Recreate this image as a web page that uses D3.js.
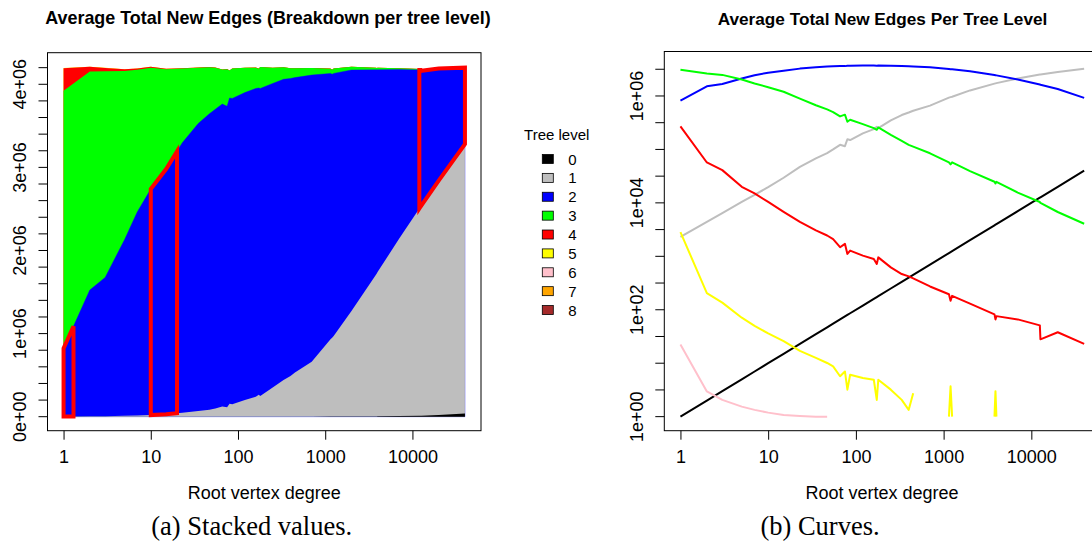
<!DOCTYPE html>
<html>
<head>
<meta charset="utf-8">
<script src="https://cdn.jsdelivr.net/npm/d3@7"></script>
<style>
  body { margin: 0; background: #fff; }
  svg { display: block; font-family: "Liberation Sans", Arial, sans-serif; }
</style>
</head>
<body>
<svg id="chart" width="1092" height="545"></svg>
<script>
// root vertex degree (x) shared by every tree level
var degrees = [1, 2, 3, 5, 7, 10, 15, 23, 35, 47, 55, 66, 75, 80, 86, 120, 160, 173, 180, 250, 333, 400, 450, 700,
  1150, 1200, 1250, 2000, 3800, 3900, 4000, 7000, 12500, 12700, 20000, 40000];

// average total new edges per tree level (null = nothing at that degree)
var level0 = [1, 2, 3, 5, 7, 10, 15, 23, 35, 47, 55, 66, 75, 80, 86, 120, 160, 173, 180, 250, 333, 400, 450, 700,
  1150, 1200, 1250, 2000, 3800, 3900, 4000, 7000, 12500, 12700, 20000, 40000];
var level1 = [2.3e3, 4.4e3, 6.4e3, 1.04e4, 1.41e4, 1.97e4, 2.95e4, 4.7e4, 6.8e4, 8.5e4, 1.0e5, 1.22e5, 1.15e5, 1.55e5, 1.5e5,
  2.0e5, 2.4e5, 2.65e5, 2.5e5, 3.5e5, 4.4e5, 4.9e5, 5.3e5, 6.6e5, 9.3e5, 9.5e5, 9.7e5, 1.27e6, 1.70e6, 1.72e6, 1.74e6,
  2.13e6, 2.52e6, 2.53e6, 2.82e6, 3.24e6];
var level2 = [8.2e5, 1.52e6, 1.67e6, 2.12e6, 2.45e6, 2.72e6, 2.95e6, 3.25e6, 3.46e6, 3.56e6, 3.60e6, 3.64e6, 3.62e6, 3.68e6,
  3.68e6, 3.70e6, 3.71e6, 3.69e6, 3.70e6, 3.66e6, 3.62e6, 3.58e6, 3.55e6, 3.45e6, 3.20e6, 3.17e6, 3.16e6, 2.90e6, 2.47e6,
  2.45e6, 2.43e6, 2.04e6, 1.64e6, 1.62e6, 1.35e6, 9.2e5];
var level3 = [3.1e6, 2.63e6, 2.48e6, 2.03e6, 1.71e6, 1.46e6, 1.2e6, 8.93e5, 6.7e5, 5.6e5, 5.0e5, 4.15e5, 4.47e5, 3.3e5, 3.59e5,
  2.98e5, 2.5e5, 2.33e5, 2.58e5, 1.88e5, 1.45e5, 1.22e5, 1.13e5, 8.47e4, 5.73e4, 5.26e4, 5.73e4, 3.94e4, 2.48e4, 2.31e4,
  2.48e4, 1.56e4, 1.04e4, 9.97e3, 6.75e3, 4.07e3];
var level4 = [2.7e5, 5.7e4, 4.1e4, 2.0e4, 1.5e4, 1.04e4, 6.8e3, 4.4e3, 3.05e3, 2.45e3, 2.1e3, 1.48e3, 1.71e3, 1.11e3, 1.28e3,
  1030, 890, 718, 955, 621, 466, 421, 386, 273, 195, 147, 182, 130, 82, 66, 76, 66, 51, 28, 38, 23];
var level5 = [2840, 204, 136, 71, 50, 36, 26, 17, 12.6, 10.1, 8.7, 5.7, 7.0, 3.2, 6.1, 5.3, 4.9, 2.06, 4.9, 3.2, 2.06, 1.34, 2.75,
  null, 1, 3.7, 1, null, 1, 3.0, 1, null, null, null, null, null];
var level6 = [22.4, 2.96, 2.06, 1.54, 1.34, 1.19, 1.07, 1.03, 1.0, 1.0, null, null, null, null, null, null, null, null, null,
  null, null, null, null, null, null, null, null, null, null, null, null, null, null, null, null, null];
var levels = [level0, level1, level2, level3, level4, level5, level6];

var levelNames = ["0", "1", "2", "3", "4", "5", "6", "7", "8"];
var levelColors = ["#000000", "#bebebe", "#0000ff", "#00ff00", "#ff0000", "#ffff00", "#ffc0cb", "#ffa500", "#a52a2a"];

// degree ranges outlined in red on the stacked panel (around level 2)
var highlightRanges = [[1, 1.3], [10, 20], [12000, 40000]];

// tick labels
var xTickValues = [1, 10, 100, 1000, 10000];
var stackTickValues = [0, 1e6, 2e6, 3e6, 4e6];
var stackTickLabels = ["0e+00", "1e+06", "2e+06", "3e+06", "4e+06"];
var logTickValues = [1, 1e2, 1e4, 1e6];
var logTickLabels = ["1e+00", "1e+02", "1e+04", "1e+06"];

var svg = d3.select("#chart");
var axisFont = 18;

// R style 4% padding, in log space
function padLog(ext) {
  var a = Math.log10(ext[0]), b = Math.log10(ext[1]), p = (b - a) * 0.04;
  return [Math.pow(10, a - p), Math.pow(10, b + p)];
}

//----------------------------------------------------------- left panel: stacked values
var boxL = { left: 47.5, right: 481, top: 52.7, bottom: 430.7 };
var xL = d3.scaleLog().domain(padLog(d3.extent(degrees))).range([boxL.left, boxL.right]);
var rows = degrees.map((d, i) => levels.map(l => l[i] == null ? 0 : l[i]));
var stacked = d3.stack().keys(d3.range(levels.length)).value((d, k) => d[k])(rows);
var total = d3.max(stacked[stacked.length - 1], d => d[1]);
var yL = d3.scaleLinear().domain([-0.04 * total, 1.04 * total]).range([boxL.bottom, boxL.top]);

// cumulative areas drawn top level first, so no seams between the bands
var cumArea = d3.area().x((d, i) => xL(degrees[i])).y0(yL(0)).y1(d => yL(d[1]));
svg.append("g").selectAll("path").data(stacked.slice().reverse()).join("path")
  .attr("d", cumArea)
  .attr("fill", d => levelColors[d.key])
  // level 2 keeps a faint outline, visible at the right and bottom edges
  .attr("stroke", d => d.key == 2 ? "#0000ff" : "none")
  .attr("stroke-width", 0.9)
  .attr("stroke-opacity", 0.45);

// band of level 2 at any degree (linear in log x)
var blue = stacked[2];
function bandAt(deg) {
  var i = Math.max(0, Math.min(degrees.length - 2, d3.bisectRight(degrees, deg) - 1));
  var a = Math.log10(degrees[i]), b = Math.log10(degrees[i + 1]);
  var t = (Math.log10(deg) - a) / (b - a);
  return [blue[i][0] + t * (blue[i + 1][0] - blue[i][0]), blue[i][1] + t * (blue[i + 1][1] - blue[i][1])];
}
svg.append("g").selectAll("path").data(highlightRanges).join("path")
  .attr("d", r => {
    var ds = [r[0]].concat(degrees.filter(d => d > r[0] && d < r[1]), [r[1]]);
    var top = ds.map(d => [xL(d), yL(bandAt(d)[1])]);
    var bottom = ds.slice().reverse().map(d => [xL(d), yL(bandAt(d)[0])]);
    return "M" + top.concat(bottom).join("L") + "Z";
  })
  .attr("fill", "none").attr("stroke", "#ff0000").attr("stroke-width", 4).attr("stroke-linejoin", "miter");

svg.append("rect").attr("x", boxL.left).attr("y", boxL.top)
  .attr("width", boxL.right - boxL.left).attr("height", boxL.bottom - boxL.top)
  .attr("fill", "none").attr("stroke", "#000");

// x axis
var gxL = svg.append("g").attr("transform", "translate(0," + boxL.bottom + ")")
  .call(d3.axisBottom(xL).tickValues(xTickValues).tickFormat(d3.format("d")).tickSize(9).tickPadding(10.5).tickSizeOuter(0));
gxL.select(".domain").remove();
gxL.selectAll("text").style("font-size", axisFont + "px").style("font-family", "Liberation Sans, Arial, sans-serif");

// y axis: ticks every 2e5, labels every 1e6
svg.append("g").selectAll("line").data(d3.range(0, total + 1, 2e5)).join("line")
  .attr("x1", boxL.left - 9).attr("x2", boxL.left)
  .attr("y1", d => yL(d)).attr("y2", d => yL(d)).attr("stroke", "#000");
svg.append("g").selectAll("text").data(stackTickValues).join("text")
  .attr("transform", d => "translate(26," + yL(d) + ") rotate(-90)")
  .attr("text-anchor", "middle").style("font-size", axisFont + "px")
  .text((d, i) => stackTickLabels[i]);

svg.append("text").attr("x", 268).attr("y", 24).attr("text-anchor", "middle")
  .style("font-size", "17.9px").style("font-weight", "bold")
  .text("Average Total New Edges (Breakdown per tree level)");
svg.append("text").attr("x", (boxL.left + boxL.right) / 2).attr("y", 499).attr("text-anchor", "middle")
  .style("font-size", axisFont + "px").text("Root vertex degree");

// legend
svg.append("text").attr("x", 556.7).attr("y", 140).attr("text-anchor", "middle")
  .style("font-size", "15px").text("Tree level");
var leg = svg.append("g").selectAll("g").data(levelNames).join("g")
  .attr("transform", (d, i) => "translate(542.3," + (159 + i * 18.88) + ")");
leg.append("rect").attr("x", 0).attr("y", -4.5).attr("width", 11).attr("height", 9)
  .attr("fill", (d, i) => levelColors[i]).attr("stroke", "#000").attr("stroke-width", 0.8);
leg.append("text").attr("x", 26).attr("y", 5.5).style("font-size", "15px").text(d => d);

//----------------------------------------------------------- right panel: curves on log axes
var boxR = { left: 664.3, right: 1100.3, top: 51.5, bottom: 430.7 };
var xR = d3.scaleLog().domain(padLog(d3.extent(degrees))).range([boxR.left, boxR.right]);
var allVals = levels.flat().filter(v => v != null && v > 0);
var yR = d3.scaleLog().domain(padLog(d3.extent(allVals))).range([boxR.bottom, boxR.top]);

var curve = d3.line().defined(d => d[1] != null).x(d => xR(d[0])).y(d => yR(d[1]));
svg.append("g").selectAll("path").data(levels).join("path")
  .attr("d", l => curve(degrees.map((d, i) => [d, l[i]])))
  .attr("fill", "none")
  .attr("stroke", (l, k) => levelColors[k])
  .attr("stroke-width", 2)
  .attr("stroke-linejoin", "round");

svg.append("rect").attr("x", boxR.left).attr("y", boxR.top)
  .attr("width", boxR.right - boxR.left).attr("height", boxR.bottom - boxR.top)
  .attr("fill", "none").attr("stroke", "#000");

var gxR = svg.append("g").attr("transform", "translate(0," + boxR.bottom + ")")
  .call(d3.axisBottom(xR).tickValues(xTickValues).tickFormat(d3.format("d")).tickSize(9).tickPadding(10.5).tickSizeOuter(0));
gxR.select(".domain").remove();
gxR.selectAll("text").style("font-size", axisFont + "px").style("font-family", "Liberation Sans, Arial, sans-serif");

// y ticks every half decade, labels every second decade
svg.append("g").selectAll("line").data(d3.range(0, 14).map(k => Math.pow(10, k / 2))).join("line")
  .attr("x1", boxR.left - 9).attr("x2", boxR.left)
  .attr("y1", d => yR(d)).attr("y2", d => yR(d)).attr("stroke", "#000");
svg.append("g").selectAll("text").data(logTickValues).join("text")
  .attr("transform", d => "translate(643," + yR(d) + ") rotate(-90)")
  .attr("text-anchor", "middle").style("font-size", axisFont + "px")
  .text((d, i) => logTickLabels[i]);

svg.append("text").attr("x", 882.5).attr("y", 24.5).attr("text-anchor", "middle")
  .style("font-size", "17.2px").style("font-weight", "bold")
  .text("Average Total New Edges Per Tree Level");
svg.append("text").attr("x", 882).attr("y", 499).attr("text-anchor", "middle")
  .style("font-size", axisFont + "px").text("Root vertex degree");

//----------------------------------------------------------- sub-figure captions
svg.selectAll(".caption").data([["(a) Stacked values.", 251.7], ["(b) Curves.", 820]]).join("text")
  .attr("class", "caption")
  .attr("x", d => d[1]).attr("y", 535).attr("text-anchor", "middle")
  .style("font-family", "Liberation Serif, Times New Roman, serif").style("font-size", "26.5px")
  .text(d => d[0]);
</script>
</body>
</html>
